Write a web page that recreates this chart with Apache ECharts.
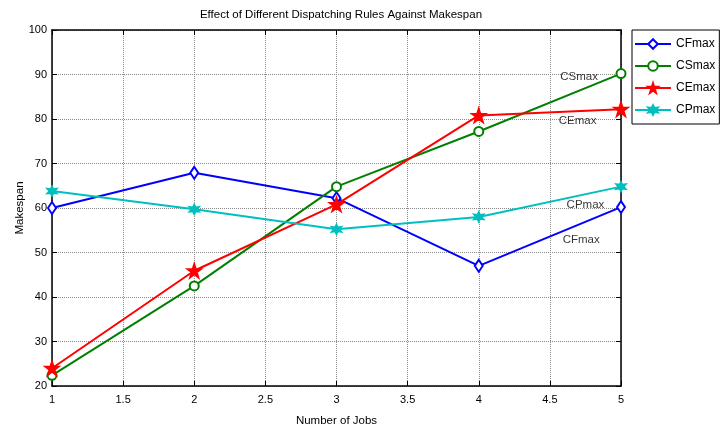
<!DOCTYPE html>
<html>
<head>
<meta charset="utf-8">
<script src="https://cdn.jsdelivr.net/npm/echarts@6/dist/echarts.min.js"></script>
<style>
  html, body { margin: 0; padding: 0; background: #fff; }
  #chart { width: 724px; height: 430px; }
</style>
</head>
<body>
<div id="chart"></div>
<script>
// Number of jobs on the x axis
const jobs = [1, 2, 3, 4, 5];

// Makespan for each dispatching rule
const cfMax = [60.0, 67.9, 62.2, 47.0, 60.2];
const csMax = [22.4, 42.5, 64.8, 77.2, 90.2];
const ceMax = [24.0, 45.9, 60.8, 80.8, 82.2];
const cpMax = [63.8, 59.7, 55.2, 58.0, 64.8];

// Rule names, in legend order
const ruleNames = ['CFmax', 'CSmax', 'CEmax', 'CPmax'];

// Text tags written beside the right-hand end of each curve: [name, x, y]
const curveTags = [
  ['CSmax', 4.705, 89.4],
  ['CEmax', 4.695, 79.5],
  ['CPmax', 4.75, 60.7],
  ['CFmax', 4.72, 52.9]
];

const FONT = "'Liberation Sans', Arial, sans-serif";

const starPath = 'path://M50,0 L61.8,35.1 L98.9,35.1 L68.9,56.8 L80.3,91.9 L50,70.2 L19.7,91.9 L31.1,56.8 L1.1,35.1 L38.2,35.1 Z';
const sixStarPath = 'path://M50,0 L62,29 L93,25 L74,50 L93,75 L62,71 L50,100 L38,71 L7,75 L26,50 L7,25 L38,29 Z';

function pairs(vals) {
  return jobs.map((j, i) => [j, vals[i]]);
}

const seriesStyle = [
  { data: cfMax, color: '#0000ff', symbol: 'diamond', size: [8, 12], fill: '#ffffff' },
  { data: csMax, color: '#008000', symbol: 'circle', size: 9, fill: '#ffffff' },
  { data: ceMax, color: '#ff0000', symbol: starPath, size: 13, fill: '#ff0000' },
  { data: cpMax, color: '#00bfbf', symbol: sixStarPath, size: 9, fill: '#00bfbf' }
];

const lineSeries = seriesStyle.map((s, i) => ({
  name: ruleNames[i],
  type: 'line',
  data: pairs(s.data),
  symbol: s.symbol,
  symbolSize: s.size,
  showAllSymbol: true,
  lineStyle: { color: s.color, width: 2 },
  itemStyle: { color: s.fill, borderColor: s.color, borderWidth: 2 },
  z: 3
}));

const tagSeries = {
  name: 'tags',
  type: 'scatter',
  data: curveTags.map(t => ({ name: t[0], value: [t[1], t[2]] })),
  symbolSize: 0,
  silent: true,
  label: {
    show: true,
    position: 'inside',
    formatter: p => p.name,
    color: '#000',
    fontFamily: FONT,
    fontSize: 11.5
  },
  z: 4
};

const frameLine = { show: true, onZero: false, lineStyle: { color: '#000', width: 1.5 } };
const inTick = { show: true, inside: true, length: 5, lineStyle: { color: '#000' } };
const gridLine = { show: true, lineStyle: { color: '#8a8a8a', type: 'dotted', width: 1 } };
const tickText = { color: '#000', fontFamily: FONT, fontSize: 11 };

const option = {
  animation: false,
  backgroundColor: '#ffffff',
  title: {
    text: 'Effect of Different Dispatching Rules Against Makespan',
    left: 336,
    textAlign: 'center',
    top: 4,
    textStyle: { color: '#000', fontFamily: FONT, fontSize: 11.5, fontWeight: 'normal' }
  },
  grid: { left: 52, right: 103, top: 30, bottom: 44, containLabel: false, outerBoundsMode: 'none' },
  legend: {
    data: ruleNames,
    orient: 'vertical',
    left: 632,
    top: 30,
    padding: [8, 4, 8, 2],
    itemWidth: 36,
    itemHeight: 12,
    itemGap: 10,
    borderColor: '#000',
    borderWidth: 1,
    backgroundColor: '#ffffff',
    textStyle: { color: '#000', fontFamily: FONT, fontSize: 12, lineHeight: 12 }
  },
  xAxis: [
    {
      type: 'value', min: 1, max: 5, interval: 0.5,
      name: 'Number of Jobs', nameLocation: 'middle', nameGap: 29, nameMoveOverlap: false,
      nameTextStyle: { color: '#000', fontFamily: FONT, fontSize: 11.5 },
      axisLine: frameLine, axisTick: inTick, splitLine: gridLine,
      axisLabel: Object.assign({ margin: 8 }, tickText)
    },
    {
      type: 'value', min: 1, max: 5, interval: 0.5, position: 'top',
      axisLine: frameLine, axisTick: inTick, splitLine: { show: false },
      axisLabel: { show: false }
    }
  ],
  yAxis: [
    {
      type: 'value', min: 20, max: 100, interval: 10,
      name: 'Makespan', nameLocation: 'middle', nameGap: 26, nameMoveOverlap: false,
      nameTextStyle: { color: '#000', fontFamily: FONT, fontSize: 11.5 },
      axisLine: frameLine, axisTick: inTick, splitLine: gridLine,
      axisLabel: Object.assign({ margin: 5 }, tickText)
    },
    {
      type: 'value', min: 20, max: 100, interval: 10, position: 'right',
      axisLine: frameLine, axisTick: inTick, splitLine: { show: false },
      axisLabel: { show: false }
    }
  ],
  series: lineSeries.concat([tagSeries])
};

const chart = echarts.init(document.getElementById('chart'), null, { renderer: 'canvas' });
chart.setOption(option);
</script>
</body>
</html>
